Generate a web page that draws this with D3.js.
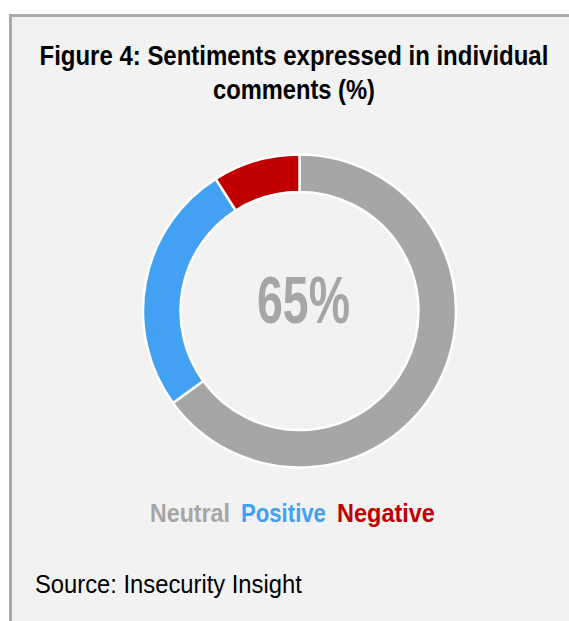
<!DOCTYPE html>
<html>
<head>
<meta charset="utf-8">
<script src="https://cdn.jsdelivr.net/npm/d3@7"></script>
<style>
  html, body { margin: 0; padding: 0; background: #ffffff; }
  svg { display: block; }
  text { font-family: "Liberation Sans Narrow", "Arial Narrow", "Liberation Sans", Arial, sans-serif; }
</style>
</head>
<body>
<svg id="chart" width="569" height="621"></svg>
<script>
// Sentiment shares (%)
const categories = ["Neutral", "Positive", "Negative"];
const values = [65, 26, 9];
const colors = ["#a6a6a6", "#42a1f2", "#c00000"];
const titleLines = ["Figure 4: Sentiments expressed in individual", "comments (%)"];
const sourceText = "Source: Insecurity Insight";

const svg = d3.select("#chart");
const W = 569, H = 621;

// Condensed widths for the narrow face
const titleWidths = [509, 162];
const legendWidths = [80, 85, 98];

// Draws a text squeezed horizontally to a given width (anchor: start | middle)
function narrowText(parent, str, x, y, width, opts) {
  const grp = parent.append("g");
  const t = grp.append("text")
    .attr("x", 0).attr("y", 0)
    .attr("font-size", opts.size)
    .attr("font-weight", opts.weight || "normal")
    .attr("fill", opts.fill || "#000")
    .text(str);
  const natural = t.node().getComputedTextLength();
  const sx = width / natural;
  const left = opts.anchor === "middle" ? x - width / 2 : x;
  grp.attr("transform", `translate(${left},${y}) scale(${sx},1)`);
  return grp;
}

// Panel background with top/left rule
svg.append("rect").attr("x", 10).attr("y", 15).attr("width", W - 10).attr("height", H - 15)
  .attr("fill", "#f2f2f2");
svg.append("line").attr("x1", 9).attr("x2", W).attr("y1", 15.5).attr("y2", 15.5)
  .attr("stroke", "#a9a9a9").attr("stroke-width", 3);
svg.append("line").attr("x1", 10.5).attr("x2", 10.5).attr("y1", 14).attr("y2", H)
  .attr("stroke", "#a9a9a9").attr("stroke-width", 3);

// Title
titleLines.forEach((line, i) => {
  narrowText(svg, line, 294, 65 + i * 34, titleWidths[i],
    { size: 28.5, weight: "bold", anchor: "middle" });
});

// Donut
const cx = 299.5, cy = 311, rOuter = 156.5, rInner = 119;
const pie = d3.pie().sort(null).value(d => d.value);
const arc = d3.arc().innerRadius(rInner).outerRadius(rOuter);
const data = categories.map((c, i) => ({ name: c, value: values[i], color: colors[i] }));

const g = svg.append("g").attr("transform", `translate(${cx},${cy})`);
g.selectAll("path").data(pie(data)).join("path")
  .attr("d", arc)
  .attr("fill", d => d.data.color)
  .attr("stroke", "#ffffff")
  .attr("stroke-width", 2.5)
  .attr("stroke-linejoin", "miter");

// Centre label: share of the largest category
narrowText(g, values[0] + "%", 4, 12, 93,
  { size: 66, weight: "bold", anchor: "middle", fill: colors[0] });

// Legend: coloured words in a row
const legendGap = 11;
let lx = 150;
categories.forEach((c, i) => {
  narrowText(svg, c, lx, 522, legendWidths[i],
    { size: 26.5, weight: "bold", fill: colors[i] });
  lx += legendWidths[i] + legendGap;
});

// Source
narrowText(svg, sourceText, 35, 593, 267, { size: 26.5 });
</script>
</body>
</html>
